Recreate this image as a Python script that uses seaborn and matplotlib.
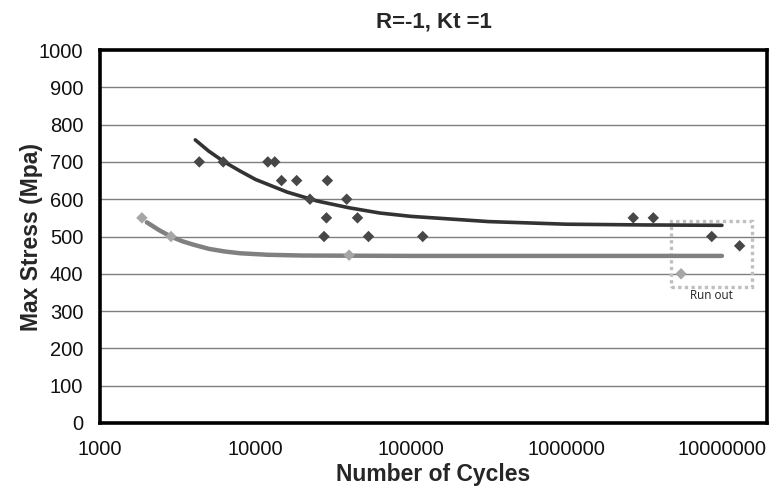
import numpy as np
import pandas as pd
import matplotlib.pyplot as plt
import seaborn as sns

# ---- data ----
# Kt=1 tests (dark diamonds)
dark_cycles = [4350, 6200, 12000, 13300, 14700, 18400, 22400, 29000, 28600, 27600,
               38600, 45300, 53300, 119000, 2690000, 3620000, 8600000, 13000000]
dark_stress = [700, 700, 700, 700, 650, 650, 600, 650, 550, 500,
               600, 550, 500, 500, 550, 550, 500, 475]

# second series (light diamonds)
light_cycles = [1860, 2860, 40000, 5460000]
light_stress = [550, 500, 450, 400]

# trend curves
dark_fit_cycles = [4100, 5000, 6300, 8000, 10000, 16000, 25000, 40000, 63000,
                   100000, 316000, 1000000, 3160000, 10000000]
dark_fit_stress = [759, 729, 700, 675, 653, 619, 595, 577, 563,
                   554, 540, 533, 531, 530]

light_fit_cycles = [2000, 2400, 2850, 3400, 4000, 5000, 6300, 8000, 12000,
                    20000, 100000, 1000000, 10000000]
light_fit_stress = [538, 517, 500, 487, 478, 467, 460, 455, 451,
                    449, 448, 448, 448]

x_ticks = [1000, 10000, 100000, 1000000, 10000000]
y_ticks = list(range(0, 1001, 100))

dark_pts = pd.DataFrame({'cycles': dark_cycles, 'stress': dark_stress})
light_pts = pd.DataFrame({'cycles': light_cycles, 'stress': light_stress})
dark_fit = pd.DataFrame({'cycles': dark_fit_cycles, 'stress': dark_fit_stress})
light_fit = pd.DataFrame({'cycles': light_fit_cycles, 'stress': light_fit_stress})

sns.set_style('white')
plt.rcParams['font.family'] = ['Liberation Sans', 'DejaVu Sans']

fig = plt.figure(figsize=(7.79, 4.88), dpi=100)
ax = fig.add_axes([0.1284, 0.1332, 0.8562, 0.7643])

# gridlines
for yv in y_ticks[1:-1]:
    ax.axhline(yv, color='#7f7f7f', lw=1.0, zorder=0)

sns.lineplot(data=light_fit, x='cycles', y='stress', ax=ax, color='#808080',
             lw=3.2, sort=True, estimator=None, zorder=2)
sns.lineplot(data=dark_fit, x='cycles', y='stress', ax=ax, color='#333333',
             lw=2.6, sort=True, estimator=None, zorder=2)
sns.scatterplot(data=light_pts, x='cycles', y='stress', ax=ax, marker='D',
                s=34, color='#a6a6a6', edgecolor='none', zorder=3)
sns.scatterplot(data=dark_pts, x='cycles', y='stress', ax=ax, marker='D',
                s=34, color='#474747', edgecolor='none', zorder=4)

# run-out box
ax.add_patch(plt.Rectangle((4.69e6, 364), 1.56e7 - 4.69e6, 542 - 364, fill=False,
                           ls=(0, (1, 1)), lw=2.4, ec='#bfbfbf', zorder=1))
ax.text(8.6e6, 343, 'Run out', ha='center', va='center', fontsize=8.5,
        family=['Open Sans', 'DejaVu Sans'], color='#222222')

ax.set_xscale('log')
ax.set_xlim(1000, 10 ** 7.29)
ax.set_ylim(0, 1000)
ax.set_xticks(x_ticks)
ax.set_xticklabels([str(t) for t in x_ticks])
ax.xaxis.set_minor_locator(plt.NullLocator())
ax.set_yticks(y_ticks)
ax.tick_params(axis='both', labelsize=14.5, length=0, colors='#111111')
ax.tick_params(axis='y', pad=12)
ax.tick_params(axis='x', pad=12)

for sp in ax.spines.values():
    sp.set_visible(True)
    sp.set_color('black')
    sp.set_linewidth(2.6)

ax.set_xlabel('Number of Cycles', fontsize=16.5, fontweight='bold', labelpad=3)
ax.set_ylabel('Max Stress (Mpa)', fontsize=16.5, fontweight='bold', labelpad=-3)
ax.set_title('R=-1, Kt =1', fontsize=16, fontweight='bold', pad=16)

fig.savefig('out.png', dpi=100)
